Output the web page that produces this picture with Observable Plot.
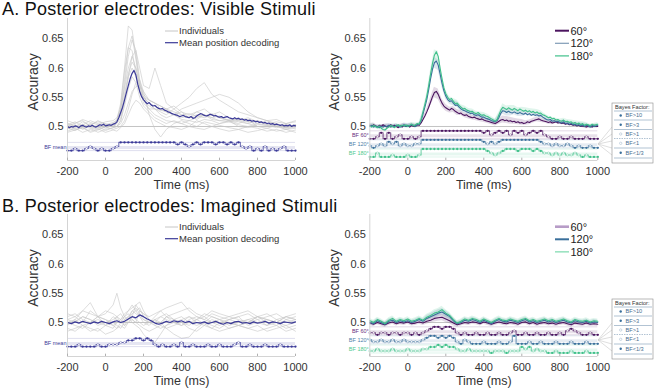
<!DOCTYPE html>
<html><head><meta charset="utf-8">
<script src="https://cdn.jsdelivr.net/npm/d3@7"></script>
<script src="https://cdn.jsdelivr.net/npm/@observablehq/plot@0.6"></script>
<style>
html,body{margin:0;padding:0;background:#fff;}
#root{position:relative;width:654px;height:390px;overflow:hidden;font-family:"Liberation Sans",Arial,Helvetica,sans-serif;}
.panel{position:absolute;}
</style></head><body><div id="root"></div>
<script>
// ---------- labels & ticks ----------
const titles = ["A. Posterior electrodes: Visible Stimuli", "B. Posterior electrodes: Imagined Stimuli"];
const xTicks = [-200, 0, 200, 400, 600, 800, 1000];
const yTicks = [0.5, 0.55, 0.6, 0.65];
const leftLegend = ["Individuals", "Mean position decoding"];
const conditions = ["60°", "120°", "180°"];
const bfRowLabels = ["BF 60°", "BF 120°", "BF 180°"];
const bfMeanLabel = "BF mean";
const bfLegendTitle = "Bayes Factor:";
const bfLegend = ["BF>10", "BF>3", "BF>1", "BF<1", "BF<1/3"];

// ---------- time bases ----------
const timeFine = d3.range(-200, 1001, 10);    // 10 ms samples (visible-stimuli curves)
const timeCoarse = d3.range(-200, 1001, 20);  // 20 ms samples (imagined curves, BF codes)
const timeInd = [-200,-160,-120,-80,-40,0,40,60,80,100,120,140,160,180,200,230,260,290,320,360,400,440,480,520,560,600,650,700,750,800,850,900,950,1000];

// ---------- A. Visible: mean (10 ms) ----------
const visMean = [
.500,.498,.500,.499,.501,.500,.498,.501,.502,.500,
.499,.501,.500,.502,.500,.499,.501,.503,.502,.504,
.501,.502,.503,.502,.504,.505,.508,.515,.524,.533,
.545,.558,.570,.582,.591,.596,.588,.572,.560,.551,
.546,.542,.539,.541,.537,.535,.536,.533,.531,.530,
.531,.528,.527,.525,.524,.522,.521,.520,.519,.517,
.518,.519,.517,.516,.515,.517,.514,.515,.518,.520,
.522,.521,.519,.518,.519,.521,.520,.518,.519,.517,
.516,.517,.515,.516,.517,.515,.514,.513,.515,.513,
.514,.512,.513,.511,.512,.510,.511,.509,.510,.508,
.509,.507,.508,.506,.507,.505,.506,.504,.505,.503,
.504,.503,.502,.503,.501,.502,.501,.503,.500,.502,
.501];

// ---------- A. Visible: individuals ----------
const visIndividuals = [
[.498,.503,.495,.501,.497,.502,.505,.512,.54,.60,.672,.665,.62,.575,.555,.545,.54,.53,.525,.52,.515,.518,.512,.52,.515,.51,.512,.508,.505,.51,.503,.5,.505,.498],
[.505,.5,.508,.502,.51,.504,.5,.506,.525,.57,.62,.648,.63,.58,.55,.54,.535,.528,.53,.52,.525,.515,.52,.518,.522,.515,.51,.515,.508,.505,.51,.502,.498,.503],
[.492,.497,.49,.495,.5,.493,.498,.5,.51,.54,.585,.62,.63,.6,.57,.565,.6,.57,.54,.53,.52,.515,.525,.52,.515,.518,.51,.505,.512,.5,.497,.502,.495,.5],
[.51,.505,.512,.507,.503,.508,.51,.515,.53,.565,.6,.62,.6,.57,.55,.54,.53,.525,.52,.53,.54,.55,.565,.575,.555,.545,.535,.525,.52,.515,.51,.512,.505,.508],
[.5,.495,.498,.49,.494,.499,.495,.497,.5,.51,.53,.555,.575,.58,.56,.52,.495,.482,.495,.505,.51,.505,.5,.508,.505,.502,.498,.495,.5,.497,.492,.495,.49,.494],
[.503,.508,.5,.505,.498,.503,.507,.51,.52,.555,.59,.61,.6,.565,.54,.53,.52,.515,.51,.508,.505,.51,.507,.512,.51,.505,.508,.503,.5,.505,.502,.498,.503,.5],
[.496,.5,.504,.498,.502,.497,.502,.508,.535,.595,.635,.63,.59,.56,.545,.535,.53,.528,.525,.52,.53,.535,.54,.545,.55,.555,.55,.54,.525,.515,.51,.505,.5,.503],
[.49,.494,.498,.492,.496,.49,.494,.492,.498,.505,.52,.535,.545,.54,.53,.52,.51,.505,.5,.498,.495,.5,.497,.495,.5,.496,.492,.495,.49,.493,.497,.492,.495,.49],
[.505,.502,.497,.503,.508,.505,.5,.505,.515,.55,.585,.6,.585,.56,.55,.545,.54,.535,.53,.525,.52,.522,.518,.515,.52,.515,.51,.512,.508,.51,.505,.508,.505,.51],
[.5,.506,.51,.5,.495,.5,.503,.5,.51,.535,.565,.585,.575,.55,.535,.525,.515,.51,.505,.51,.505,.5,.51,.505,.5,.505,.51,.5,.498,.503,.505,.5,.498,.502],
[.502,.498,.503,.51,.505,.5,.504,.51,.53,.58,.635,.655,.615,.57,.545,.53,.53,.52,.515,.52,.512,.51,.515,.52,.512,.51,.508,.51,.505,.5,.502,.505,.497,.5],
[.497,.493,.5,.497,.49,.495,.498,.5,.505,.52,.54,.56,.568,.57,.56,.545,.54,.535,.53,.535,.525,.52,.525,.53,.52,.525,.515,.51,.515,.508,.505,.5,.495,.497]
];

// ---------- A. Visible: conditions (10 ms) ----------
const vis60 = [
.502,.500,.503,.501,.499,.502,.500,.503,.501,.499,
.501,.503,.500,.502,.500,.498,.501,.499,.502,.500,
.501,.499,.502,.500,.501,.503,.502,.506,.512,.518,
.525,.533,.542,.551,.558,.560,.555,.547,.540,.535,
.532,.530,.528,.531,.529,.526,.524,.522,.523,.520,
.519,.520,.517,.516,.515,.516,.514,.513,.512,.513,
.511,.510,.509,.508,.507,.506,.505,.507,.509,.511,
.512,.510,.511,.509,.510,.508,.509,.507,.508,.506,
.507,.505,.506,.508,.507,.509,.510,.511,.512,.513,
.511,.510,.509,.508,.507,.508,.506,.507,.508,.506,
.507,.505,.506,.504,.505,.503,.504,.502,.503,.501,
.502,.500,.501,.500,.499,.501,.500,.499,.501,.500,
.500];
const vis120 = [
.500,.502,.499,.501,.500,.498,.500,.499,.501,.500,
.502,.499,.501,.500,.502,.501,.499,.501,.503,.500,
.502,.501,.503,.502,.500,.503,.504,.510,.521,.533,
.546,.563,.582,.598,.609,.612,.605,.590,.574,.561,
.552,.546,.543,.544,.540,.536,.537,.533,.530,.528,
.527,.525,.524,.522,.523,.520,.519,.520,.518,.516,
.516,.514,.513,.512,.510,.509,.508,.510,.516,.523,
.527,.526,.524,.526,.524,.523,.525,.523,.522,.524,
.522,.521,.523,.520,.522,.519,.521,.519,.520,.518,
.519,.516,.514,.512,.511,.512,.509,.510,.508,.509,
.507,.506,.508,.505,.506,.504,.505,.503,.504,.502,
.503,.501,.503,.500,.502,.501,.499,.502,.500,.501,
.502];
const vis180 = [
.501,.499,.502,.500,.498,.501,.497,.495,.494,.497,
.499,.502,.500,.498,.501,.503,.500,.502,.501,.503,
.500,.502,.504,.501,.503,.505,.504,.512,.525,.538,
.552,.570,.590,.608,.622,.628,.620,.600,.582,.566,
.556,.550,.546,.548,.543,.539,.540,.536,.533,.530,
.531,.528,.527,.525,.526,.523,.522,.524,.521,.519,
.520,.518,.517,.515,.513,.511,.509,.512,.520,.528,
.533,.531,.529,.532,.530,.528,.531,.529,.527,.530,
.528,.526,.528,.525,.527,.524,.526,.523,.525,.522,
.523,.520,.519,.517,.515,.516,.513,.514,.511,.512,
.510,.509,.511,.508,.509,.507,.508,.505,.507,.504,
.506,.503,.505,.502,.504,.503,.501,.504,.502,.503,
.504];
const visSem = [
.003,.003,.003,.003,.003,.003,.003,.003,.003,.003,
.003,.003,.003,.003,.004,.005,.007,.009,.009,.007,
.006,.005,.005,.005,.004,.004,.004,.004,.004,.004,
.004,.004,.004,.004,.005,.006,.006,.006,.005,.005,
.005,.004,.004,.004,.004,.004,.003,.003,.003,.003,
.003,.003,.003,.003,.003,.003,.003,.003,.003,.003,
.003];

// ---------- A. Visible: Bayes-factor codes (1:BF>10 2:BF>3 3:BF>1 4:BF<1 5:BF<1/3), 20 ms ----------
const visBFmean = [5,5,4,5,5,4,3,4,5,4, 5,5,4,3,1,1,1,1,1,1, 1,1,1,1,1,1,1,1,1,2, 1,2,3,2,1,2,1,1,1,2, 1,1,2,1,2,1,3,4,3,5, 4,5,3,5,4,5,4,3,5,5, 5];
const visBF60 = [5,5,4,2,5,2,5,4,3,5, 5,4,5,4,1,1,1,1,1,1, 1,1,1,1,1,1,1,1,1,1, 2,1,3,2,1,2,1,3,1,2, 1,3,2,1,2,1,3,4,5,5, 4,5,5,4,5,5,5,4,5,5, 5];
const visBF120 = [4,5,4,3,4,2,3,2,4,3, 4,4,3,3,1,1,1,1,1,1, 1,1,1,1,1,1,1,1,1,1, 2,3,2,3,2,1,1,1,1,1, 1,1,1,1,1,2,3,3,4,3, 4,4,3,4,5,4,5,5,4,5, 5];
const visBF180 = [5,5,3,5,5,5,4,5,5,5, 4,5,5,4,1,1,1,1,1,1, 1,1,1,1,1,1,1,1,1,1, 1,2,3,4,3,2,1,1,1,2, 1,1,1,2,1,2,3,3,4,3, 4,3,4,4,3,4,5,4,5,5, 5];

// ---------- B. Imagined: mean (20 ms) ----------
const imgMean = [
.500,.498,.501,.499,.502,.500,.498,.501,.499,.502,
.500,.498,.501,.503,.500,.502,.506,.510,.508,.513,
.510,.506,.503,.499,.497,.499,.502,.500,.503,.501,
.503,.500,.502,.498,.500,.499,.501,.498,.500,.502,
.499,.497,.500,.498,.501,.502,.499,.500,.498,.501,
.499,.500,.502,.499,.501,.500,.498,.501,.500,.499,
.501];
const imgIndividuals = [
[.505,.51,.5,.52,.51,.515,.53,.55,.525,.51,.505,.515,.52,.525,.51,.5,.505,.495,.51,.505,.5,.495,.505,.51,.5,.505,.495,.5,.505,.51,.5,.495,.505,.5],
[.495,.505,.52,.534,.51,.495,.49,.5,.505,.495,.5,.51,.53,.535,.52,.505,.495,.5,.51,.5,.495,.5,.505,.498,.49,.5,.505,.51,.495,.5,.505,.5,.49,.495],
[.5,.495,.49,.5,.505,.5,.495,.49,.5,.505,.51,.5,.495,.49,.48,.47,.466,.48,.495,.5,.505,.51,.5,.495,.505,.5,.49,.495,.5,.505,.495,.5,.51,.505],
[.49,.485,.495,.49,.485,.495,.5,.495,.49,.5,.505,.51,.505,.5,.495,.5,.505,.5,.49,.48,.473,.475,.49,.5,.495,.49,.5,.495,.49,.485,.49,.495,.485,.49],
[.51,.515,.505,.5,.51,.505,.5,.51,.515,.505,.51,.52,.515,.51,.505,.5,.51,.52,.525,.53,.535,.52,.51,.505,.515,.51,.505,.51,.515,.505,.51,.515,.505,.51],
[.498,.502,.51,.505,.495,.5,.505,.51,.5,.495,.505,.52,.525,.515,.505,.5,.495,.49,.495,.505,.51,.5,.495,.5,.51,.505,.5,.495,.5,.51,.505,.5,.495,.5],
[.485,.49,.495,.485,.49,.48,.485,.49,.495,.49,.5,.505,.5,.495,.49,.485,.49,.495,.49,.495,.5,.49,.485,.495,.49,.485,.49,.495,.49,.495,.485,.49,.495,.485],
[.515,.51,.52,.515,.51,.52,.515,.51,.505,.515,.52,.525,.53,.52,.515,.51,.515,.52,.51,.515,.52,.525,.515,.51,.52,.515,.51,.515,.52,.51,.515,.505,.51,.515],
[.5,.505,.495,.5,.51,.505,.495,.5,.505,.51,.515,.505,.5,.52,.515,.505,.5,.51,.505,.5,.495,.505,.51,.505,.5,.495,.505,.5,.505,.5,.495,.505,.5,.505],
[.505,.5,.51,.505,.5,.495,.51,.505,.5,.51,.52,.53,.52,.51,.5,.495,.505,.51,.515,.505,.5,.51,.505,.515,.51,.505,.51,.505,.5,.51,.505,.5,.51,.505]
];
const img60 = [
.499,.497,.500,.498,.496,.499,.501,.498,.500,.499,
.501,.498,.499,.501,.499,.502,.504,.507,.508,.509,
.506,.503,.499,.496,.498,.500,.499,.501,.500,.498,
.501,.499,.497,.499,.501,.499,.498,.500,.499,.497,
.500,.501,.498,.500,.497,.499,.500,.498,.499,.497,
.499,.500,.498,.496,.499,.498,.497,.499,.497,.498,
.497];
const img120 = [
.500,.498,.503,.500,.497,.502,.504,.500,.503,.501,
.503,.500,.502,.505,.502,.507,.510,.513,.516,.518,
.514,.510,.503,.498,.500,.504,.502,.505,.503,.500,
.504,.501,.498,.502,.505,.502,.501,.504,.502,.500,
.503,.505,.501,.503,.500,.502,.504,.501,.503,.500,
.502,.504,.501,.499,.503,.501,.500,.502,.499,.501,
.500];
const img180 = [
.503,.500,.505,.502,.498,.504,.507,.502,.505,.503,
.506,.502,.504,.507,.504,.509,.512,.516,.518,.522,
.516,.512,.505,.499,.502,.506,.504,.507,.505,.502,
.506,.503,.500,.504,.507,.504,.503,.506,.504,.502,
.505,.507,.503,.505,.502,.504,.506,.503,.505,.502,
.504,.506,.503,.501,.505,.503,.502,.504,.501,.503,
.502];
const imgSem = [
.004,.004,.004,.004,.004,.004,.004,.004,.004,.004,
.004,.004,.004,.004,.004,.005,.005,.006,.006,.006,
.006,.005,.005,.004,.004,.004,.004,.004,.004,.004,
.004,.004,.004,.004,.004,.004,.004,.004,.004,.004,
.004,.004,.004,.004,.004,.004,.004,.004,.004,.004,
.004,.004,.004,.004,.004,.004,.004,.004,.004,.004,
.004];
const imgBFmean = [5,5,5,4,5,5,5,5,4,5, 5,4,4,4,3,3,2,2,1,1, 2,1,2,4,5,4,5,5,4,5, 3,5,5,4,5,5,5,4,5,5, 4,5,5,5,4,3,5,5,4,5, 5,5,4,5,5,5,4,5,5,5, 5];
const imgBF60 = [4,4,5,4,4,5,4,4,5,4, 4,5,4,5,4,3,2,1,1,2, 1,1,2,4,5,4,5,5,4,5, 5,4,5,5,4,5,5,4,3,5, 5,4,5,5,4,5,5,4,5,5, 4,5,3,2,3,4,5,5,4,5, 5];
const imgBF120 = [3,4,4,3,4,4,3,4,4,3, 4,4,4,4,3,2,1,1,2,1, 2,1,2,4,5,3,4,5,5,5, 4,5,5,5,4,5,5,4,1,5, 5,5,4,5,5,4,5,5,5,4, 5,5,5,4,5,5,5,4,5,5, 5];
const imgBF180 = [4,4,3,4,4,4,3,4,4,4, 3,4,4,4,3,3,2,2,1,2, 1,2,2,3,4,4,3,4,4,4, 4,4,5,4,4,4,5,4,4,4, 2,3,2,4,3,4,4,5,5,4, 5,5,5,4,5,5,5,4,5,5, 5];

// ---------- styling ----------
const FONT = '"Liberation Sans", Arial, Helvetica, sans-serif';
const Y_DOMAIN = [0.44184, 0.68474];
const meanColor = "#3b3a98";
const indColor = "#c6c6c6";
const condColors = ["#4b145f", "#3a6f9b", "#3fc08a"];
const rowLabelColors = ["#6a2d80", "#4a7ea8", "#4cc98e"];

function bfMarks(codes, center, step, color) {
  const data = codes.map((c, i) => ({t: timeCoarse[i], code: c, y: center + (3 - c) * step}));
  return [
    Plot.ruleY([center + 2 * step, center - 2 * step], {stroke: color, strokeOpacity: 0.28, strokeWidth: 0.6}),
    Plot.ruleY([center - 0.5 * step], {stroke: color, strokeOpacity: 0.13, strokeWidth: 3}),
    Plot.line(data, {x: "t", y: "y", curve: "step", stroke: color, strokeWidth: 1.1, strokeOpacity: 0.7}),
    Plot.dot(data.filter(d => d.code === 3 || d.code === 4), {x: "t", y: "y", r: 1.1, fill: "white", stroke: color, strokeOpacity: 0.55, strokeWidth: 0.6}),
    Plot.dot(data.filter(d => d.code !== 3 && d.code !== 4), {x: "t", y: "y", r: 1.15, fill: color})
  ];
}

function panelPlot({width, marginLeft, marginRight, height, accDx, marks}) {
  const lo = Y_DOMAIN[0];
  return Plot.plot({
    width, height, marginLeft, marginRight, marginTop: 18, marginBottom: height - 160,
    x: {domain: [-200, 1000]},
    y: {domain: Y_DOMAIN},
    style: {background: "transparent", fontFamily: FONT, color: "#333", overflow: "visible"},
    marks: [
      Plot.ruleY([0.5], {stroke: "#b4b4b4", strokeWidth: 0.8}),
      ...marks,
      Plot.ruleX([-200], {stroke: "#d4d4d4"}),
      Plot.ruleY([lo], {stroke: "#d4d4d4"}),
      Plot.ruleX(xTicks, {x: d => d, y1: lo, y2: lo + 0.004, stroke: "#b0b0b0"}),
      Plot.axisY({ticks: yTicks, tickSize: 0, tickPadding: 4, tickFormat: d => String(d), fontSize: 11, label: null}),
      Plot.axisX({ticks: xTicks, tickSize: 0, tickPadding: 7, tickFormat: d => String(d), fontSize: 11, label: null}),
      Plot.text(["Accuracy"], {y: [0.576], frameAnchor: "left", textAnchor: "middle", lineAnchor: "middle", dx: accDx, rotate: -90, fontSize: 14, fill: "#333"}),
      Plot.text(["Time (ms)"], {frameAnchor: "bottom", textAnchor: "middle", lineAnchor: "middle", dy: 24, fontSize: 12.5, fill: "#333"})
    ]
  });
}

function leftPanel(mean, meanTime, individuals, bfCodes, height) {
  const ind = individuals.flatMap((arr, id) => arr.map((v, i) => ({t: timeInd[i], v, id})));
  const m = mean.map((v, i) => ({t: meanTime[i], v}));
  return panelPlot({
    width: 330, marginLeft: 67, marginRight: 35, height, accDx: -34,
    marks: [
      Plot.line(ind, {x: "t", y: "v", z: "id", stroke: indColor, strokeWidth: 0.6}),
      ...bfMarks(bfCodes, 0.4658, 0.0035, meanColor),
      Plot.text([bfMeanLabel], {x: [-200], y: [0.4648], textAnchor: "end", dx: -1, fontSize: 5.5, fill: meanColor}),
      Plot.line(m, {x: "t", y: "v", stroke: meanColor, strokeWidth: 1.2})
    ]
  });
}

function rightPanel(series, seriesTime, sem, bfRows, height) {
  const centers = [0.4858, 0.4704, 0.4547];
  const step = 0.0034;
  const marks = [];
  series.forEach((s, k) => {
    const ratio = s.length === sem.length ? 1 : 2;
    const band = sem.map((e, i) => ({t: timeCoarse[i], lo: s[i * ratio] - e, hi: s[i * ratio] + e}));
    marks.push(Plot.areaY(band, {x: "t", y1: "lo", y2: "hi", fill: condColors[k], fillOpacity: 0.16}));
  });
  bfRows.forEach((codes, k) => {
    marks.push(...bfMarks(codes, centers[k], step, condColors[k]));
    marks.push(Plot.text([bfRowLabels[k]], {x: [-200], y: [centers[k] - 0.0008], textAnchor: "end", dx: -1, fontSize: 5.5, fill: rowLabelColors[k]}));
  });
  series.forEach((s, k) => {
    const d = s.map((v, i) => ({t: seriesTime[i], v}));
    marks.push(Plot.line(d, {x: "t", y: "v", stroke: condColors[k], strokeWidth: 1.1}));
  });
  return panelPlot({width: 324, marginLeft: 39.3, marginRight: 56.7, height, accDx: -35, marks});
}

const root = document.getElementById("root");
function place(node, left, top) {
  const div = document.createElement("div");
  div.className = "panel";
  div.style.left = left + "px";
  div.style.top = top + "px";
  div.appendChild(node);
  root.appendChild(div);
}

place(leftPanel(visMean, timeFine, visIndividuals, visBFmean, 195), 0, 0);
place(rightPanel([vis60, vis120, vis180], timeFine, visSem, [visBF60, visBF120, visBF180], 195), 330, 0);
place(leftPanel(imgMean, timeCoarse, imgIndividuals, imgBFmean, 194), 0, 196);
place(rightPanel([img60, img120, img180], timeCoarse, imgSem, [imgBF60, imgBF120, imgBF180], 194), 330, 196);

// ---------- overlay: titles and legends ----------
const svg = d3.select(root).append("svg")
  .attr("width", 654).attr("height", 390)
  .style("position", "absolute").style("left", "0").style("top", "0")
  .style("font-family", FONT);

svg.selectAll("text.title").data(titles).join("text")
  .attr("class", "title")
  .attr("x", 2).attr("y", (d, i) => i === 0 ? 15 : 212)
  .attr("font-size", 18).attr("letter-spacing", 0.25).attr("fill", "#111")
  .text(d => d);

const panelOffsets = [0, 196];
panelOffsets.forEach((off, p) => {
  // left legend
  const lg = svg.append("g").attr("transform", `translate(0,${off})`);
  const leftColors = [indColor, meanColor];
  leftLegend.forEach((label, i) => {
    const y = 31 + i * 11.7;
    lg.append("line").attr("x1", 165).attr("x2", 178).attr("y1", y).attr("y2", y)
      .attr("stroke", leftColors[i]).attr("stroke-width", i ? 1.2 : 1);
    lg.append("text").attr("x", 179).attr("y", y).attr("dy", "0.35em")
      .attr("font-size", 9.5).attr("fill", "#333").text(label);
  });
  // right legend (conditions)
  const sw = p === 0
    ? [{c: "#4b145f", w: 2}, {c: "#7f9bb6", w: 1.2}, {c: "#3fc08a", w: 1.2}]
    : [{c: "#b79cc7", w: 2.6}, {c: "#3a6f9b", w: 2}, {c: "#5fd29b", w: 1}];
  conditions.forEach((label, i) => {
    const y = 30.7 + i * 12.6;
    lg.append("line").attr("x1", 555).attr("x2", 569).attr("y1", y).attr("y2", y)
      .attr("stroke", sw[i].c).attr("stroke-width", sw[i].w);
    lg.append("text").attr("x", 570.5).attr("y", y).attr("dy", "0.35em")
      .attr("font-size", 11).attr("fill", "#222").text(label);
  });
  // Bayes factor legend box with connectors
  [127, 134, 141, 148, 155].forEach(y => {
    lg.append("line").attr("x1", 598).attr("y1", 144).attr("x2", 612).attr("y2", y)
      .attr("stroke", "#c8c8c8").attr("stroke-width", 0.6);
  });
  lg.append("rect").attr("x", 612).attr("y", 103).attr("width", 41).attr("height", 60)
    .attr("fill", "white").attr("stroke", "#8a8a8a").attr("stroke-width", 0.6);
  lg.append("text").attr("x", 615).attr("y", 108.8).attr("font-size", 5.6).attr("fill", "#333").text(bfLegendTitle);
  [111, 120, 129.5, 138.5, 148, 158].forEach((y, i) => {
    lg.append("line").attr("x1", 614).attr("x2", 652).attr("y1", y).attr("y2", y)
      .attr("stroke", "#7d9ab6").attr("stroke-width", 0.6)
      .attr("stroke-dasharray", i === 3 ? "1.5,1" : null);
  });
  bfLegend.forEach((label, i) => {
    const y = [115.5, 124.7, 134, 143.3, 152.8][i];
    const open = i === 2 || i === 3;
    lg.append("circle").attr("cx", 620.7).attr("cy", y).attr("r", 1.2)
      .attr("fill", open ? "white" : "#3a6f9b").attr("stroke", open ? "#9ab3c9" : "none").attr("stroke-width", 0.5);
    lg.append("text").attr("x", 625.5).attr("y", y).attr("dy", "0.35em")
      .attr("font-size", 5.6).attr("fill", "#4a6f90").text(label);
  });
});
</script></body></html>
